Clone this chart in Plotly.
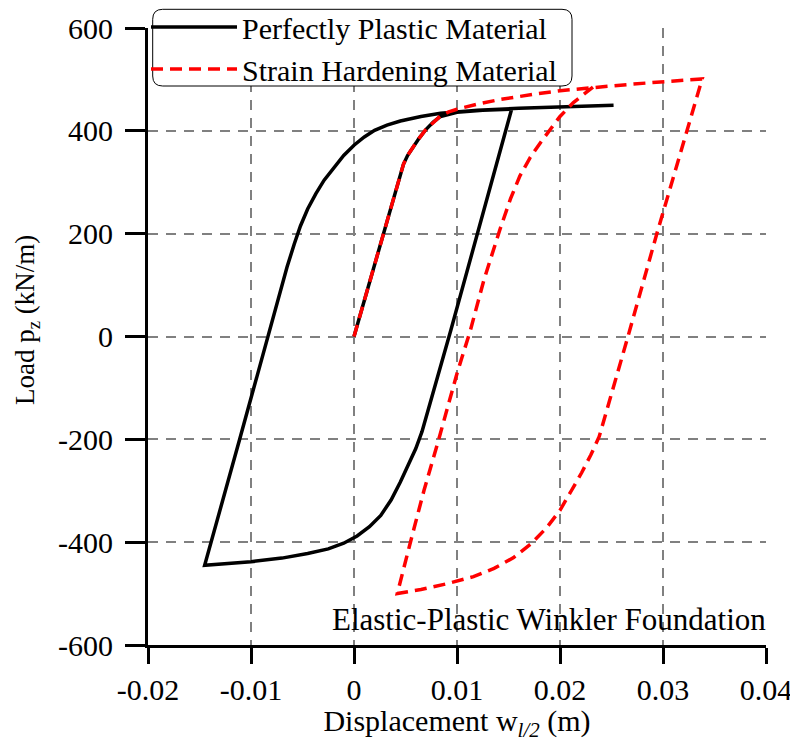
import plotly.graph_objects as go

# Perfectly plastic material (black solid)
pp_x = [0, 0.0029, 0.0048, 0.0052, 0.0057, 0.0063, 0.0070, 0.0077, 0.0084, 0.0100, 0.0125, 0.0153,
        0.0094, 0.0072, 0.0066, 0.0060, 0.0053, 0.0045, 0.0036, 0.0026, 0.0015, 0.0003, -0.0010, -0.0025,
        -0.0045, -0.0070, -0.0100, -0.0145,
        -0.0111, -0.0082, -0.0065, -0.0058, -0.0052, -0.0045, -0.0037, -0.0029, -0.0020, -0.0010, 0.0,
        0.0010, 0.0020, 0.0032, 0.0045, 0.0065, 0.0084, 0.0120, 0.0160, 0.0200, 0.0252]
pp_y = [0, 200, 335, 352, 368, 385, 403, 417, 428, 436, 440, 442,
        12, -145, -185, -218, -250, -283, -318, -348, -370, -388, -402, -413,
        -422, -431, -438, -445,
        -200, 12, 135, 180, 215, 248, 278, 304, 328, 352, 372,
        388, 401, 411, 419, 428, 434, 440, 444, 447, 450]

# Strain hardening material (red dashed)
sh_x = [0, 0.0029, 0.0048, 0.0052, 0.0057, 0.0063, 0.0070, 0.0077, 0.0084, 0.0092, 0.0100, 0.0120, 0.0142,
        0.0174, 0.0200, 0.0232, 0.0271, 0.0338,
        0.0294, 0.0266, 0.0245, 0.0238, 0.0230, 0.0221, 0.0211, 0.0200, 0.0187, 0.0172, 0.0155, 0.0136,
        0.0116, 0.0090, 0.0065, 0.0042,
        0.0057, 0.0068, 0.0082, 0.0100, 0.0113, 0.0126, 0.0142, 0.0152, 0.0161, 0.0171, 0.0181, 0.0191,
        0.0200, 0.0213, 0.0232]
sh_y = [0, 200, 335, 352, 368, 385, 403, 417, 429, 437, 442, 452, 461,
        471, 478, 484, 491, 501,
        200, 0, -150, -195, -230, -265, -300, -338, -372, -403, -430, -451,
        -467, -481, -492, -500,
        -383, -299, -202, -72, 12, 109, 210, 268, 312, 348, 377, 405,
        428, 455, 485]

x_ticks = [-0.02, -0.01, 0, 0.01, 0.02, 0.03, 0.04]
x_tick_text = ["-0.02", "-0.01", "0", "0.01", "0.02", "0.03", "0.04"]
y_ticks = [-600, -400, -200, 0, 200, 400, 600]
y_tick_text = ["-600", "-400", "-200", "0", "200", "400", "600"]

FONT = "Liberation Serif"

fig = go.Figure()
fig.add_trace(go.Scatter(x=pp_x, y=pp_y, mode="lines", name="Perfectly Plastic Material",
                         line=dict(color="black", width=3.5)))
fig.add_trace(go.Scatter(x=sh_x, y=sh_y, mode="lines", name="Strain Hardening Material",
                         line=dict(color="#ff0000", width=3.5, dash="12px,7px")))

# page has an 8px body margin, so the figure is 8px smaller than the window
W, H = 790, 734
L, R, T, B = 140, 32, 20, 97
pw, ph = W - L - R, H - T - B

def px_to_paper_x(px):
    return (px - 8 - L) / pw

def py_to_paper_y(py):
    return (H - B - (py - 8)) / ph

# rounded legend box in paper coords (page pixel positions)
bx0, bx1 = px_to_paper_x(152.7), px_to_paper_x(572)
by1, by0 = py_to_paper_y(9.3), py_to_paper_y(86)
rx, ry = 10 / pw, 10 / ph
path = (f"M{bx0+rx},{by0} L{bx1-rx},{by0} Q{bx1},{by0} {bx1},{by0+ry} "
        f"L{bx1},{by1-ry} Q{bx1},{by1} {bx1-rx},{by1} L{bx0+rx},{by1} "
        f"Q{bx0},{by1} {bx0},{by1-ry} L{bx0},{by0+ry} Q{bx0},{by0} {bx0+rx},{by0} Z")
fig.add_shape(type="path", path=path, xref="paper", yref="paper",
              line=dict(color="black", width=1), fillcolor="white", layer="above")

fig.add_annotation(x=px_to_paper_x(768), y=-551, xref="paper", yref="y", xanchor="right", yanchor="middle",
                   text="Elastic-Plastic Winkler Foundation", showarrow=False,
                   font=dict(family=FONT, size=31, color="black"))

# y-axis title
fig.add_annotation(x=px_to_paper_x(27), y=py_to_paper_y(320), xref="paper", yref="paper",
                   xanchor="center", yanchor="middle", textangle=-90, showarrow=False,
                   text="Load p<sub>z</sub> (kN/m)",
                   font=dict(family=FONT, size=27, color="black"))

axis_common = dict(showline=True, linecolor="black", linewidth=3, mirror=False,
                   showgrid=True, gridcolor="#808080", gridwidth=1.5, griddash="10px,8px",
                   ticks="outside", tickcolor="black", tickwidth=3, zeroline=False)

fig.update_xaxes(range=[-0.02, 0.04], tickvals=x_ticks, ticktext=x_tick_text, ticklen=16,
                 ticklabelstandoff=0,
                 tickfont=dict(family=FONT, size=30, color="black"),
                 title=dict(text="Displacement w<sub><i>l/2</i></sub> (m)",
                            font=dict(family=FONT, size=30, color="black"), standoff=4),
                 **axis_common)
fig.update_yaxes(range=[-600, 600], tickvals=y_ticks, ticktext=y_tick_text, ticklen=20,
                 ticklabelstandoff=6,
                 tickfont=dict(family=FONT, size=30, color="black"),
                 **axis_common)

fig.update_layout(
    width=W, height=H,
    margin=dict(l=L, r=R, t=T, b=B, autoexpand=False),
    plot_bgcolor="white", paper_bgcolor="white",
    font=dict(family=FONT, size=29, color="black"),
    showlegend=True,
    legend=dict(x=px_to_paper_x(146), y=py_to_paper_y(1), xanchor="left", yanchor="top",
                bgcolor="rgba(0,0,0,0)", borderwidth=0, itemwidth=86,
                font=dict(family=FONT, size=30, color="black"),
                tracegroupgap=0),
)

fig.write_html("out.html")
